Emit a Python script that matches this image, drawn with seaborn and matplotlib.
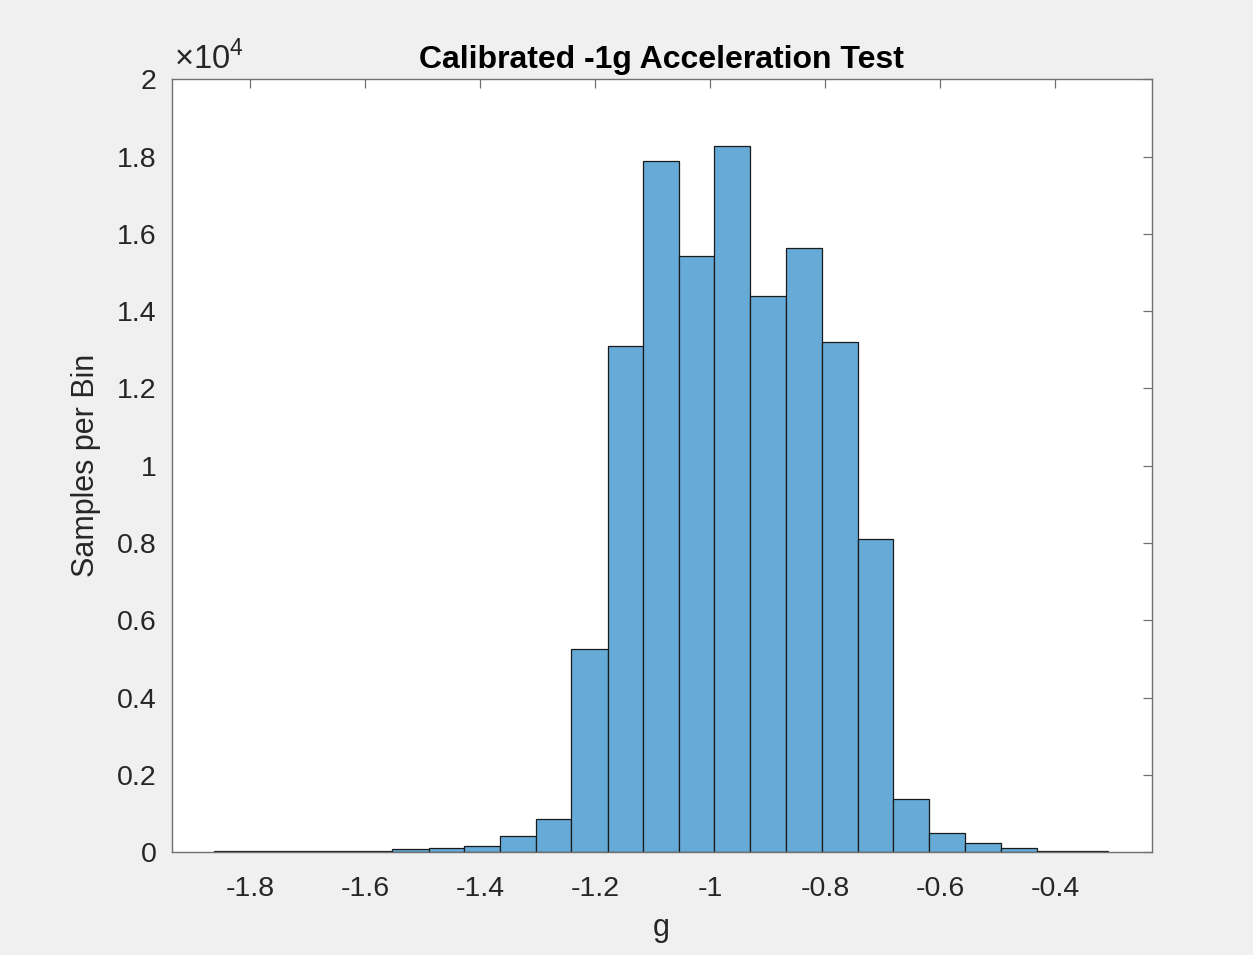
import numpy as np
import pandas as pd
import matplotlib
matplotlib.use("Agg")
import matplotlib.pyplot as plt
import seaborn as sns

# Histogram: 25 equal bins, counts per bin
bin_edges = [-1.862, -1.800, -1.738, -1.676, -1.614, -1.552, -1.489, -1.427,
             -1.365, -1.303, -1.241, -1.178, -1.116, -1.054, -0.992, -0.930,
             -0.867, -0.805, -0.743, -0.681, -0.619, -0.556, -0.494, -0.432,
             -0.370, -0.307]
bin_counts = [30, 30, 30, 35, 40, 77, 110, 170, 420, 860,
              5260, 13107, 17878, 15436, 18282, 14393, 15635, 13195, 8106, 1387,
              499, 233, 103, 35, 30]
x_ticks = [-1.8, -1.6, -1.4, -1.2, -1.0, -0.8, -0.6, -0.4]
x_tick_labels = ['-1.8', '-1.6', '-1.4', '-1.2', '-1', '-0.8', '-0.6', '-0.4']
y_ticks = [0, 2000, 4000, 6000, 8000, 10000, 12000, 14000, 16000, 18000, 20000]
y_tick_labels = ['0', '0.2', '0.4', '0.6', '0.8', '1', '1.2', '1.4', '1.6', '1.8', '2']

edges = np.array(bin_edges)
df = pd.DataFrame({'g': (edges[:-1] + edges[1:]) / 2, 'count': bin_counts})

sns.set_style('white')
plt.rcParams['font.family'] = ['Liberation Sans', 'DejaVu Sans']
plt.rcParams['axes.unicode_minus'] = False
plt.rcParams['mathtext.fontset'] = 'custom'
plt.rcParams['mathtext.rm'] = 'Liberation Sans'

fig = plt.figure(figsize=(12.53, 9.55), dpi=100, facecolor='#f0f0f0')
ax = fig.add_axes([0.137, 0.1075, 0.782, 0.8095])

sns.histplot(data=df, x='g', weights='count', bins=bin_edges, ax=ax,
             color='#66aad7', alpha=1.0, edgecolor='#1a1a1a', linewidth=0.9)

ax.set_xlim(-1.936, -0.232)
ax.set_ylim(0, 20000)
ax.set_xticks(x_ticks)
ax.set_xticklabels(x_tick_labels)
ax.set_yticks(y_ticks)
ax.set_yticklabels(y_tick_labels)

axis_color = '#262626'
for s in ax.spines.values():
    s.set_visible(True)
    s.set_color('#707070')
    s.set_linewidth(1.0)
ax.tick_params(direction='in', length=6.5, width=0.9, color='#707070',
               labelsize=20.5, labelcolor=axis_color, top=True, right=True)
ax.tick_params(axis='x', pad=17)
ax.tick_params(axis='y', pad=11)

ax.set_xlabel('g', fontsize=22, color=axis_color, labelpad=8)
ax.set_ylabel('Samples per Bin', fontsize=22, color=axis_color, labelpad=11)
ax.set_title('Calibrated -1g Acceleration Test', fontsize=23, fontweight='bold',
             color='black', pad=8)
ax.text(0.002, 1.004, r'$\times10^{4}$', transform=ax.transAxes, fontsize=23.5,
        color=axis_color, ha='left', va='bottom')

plt.savefig('out.png', dpi=100, facecolor=fig.get_facecolor())
